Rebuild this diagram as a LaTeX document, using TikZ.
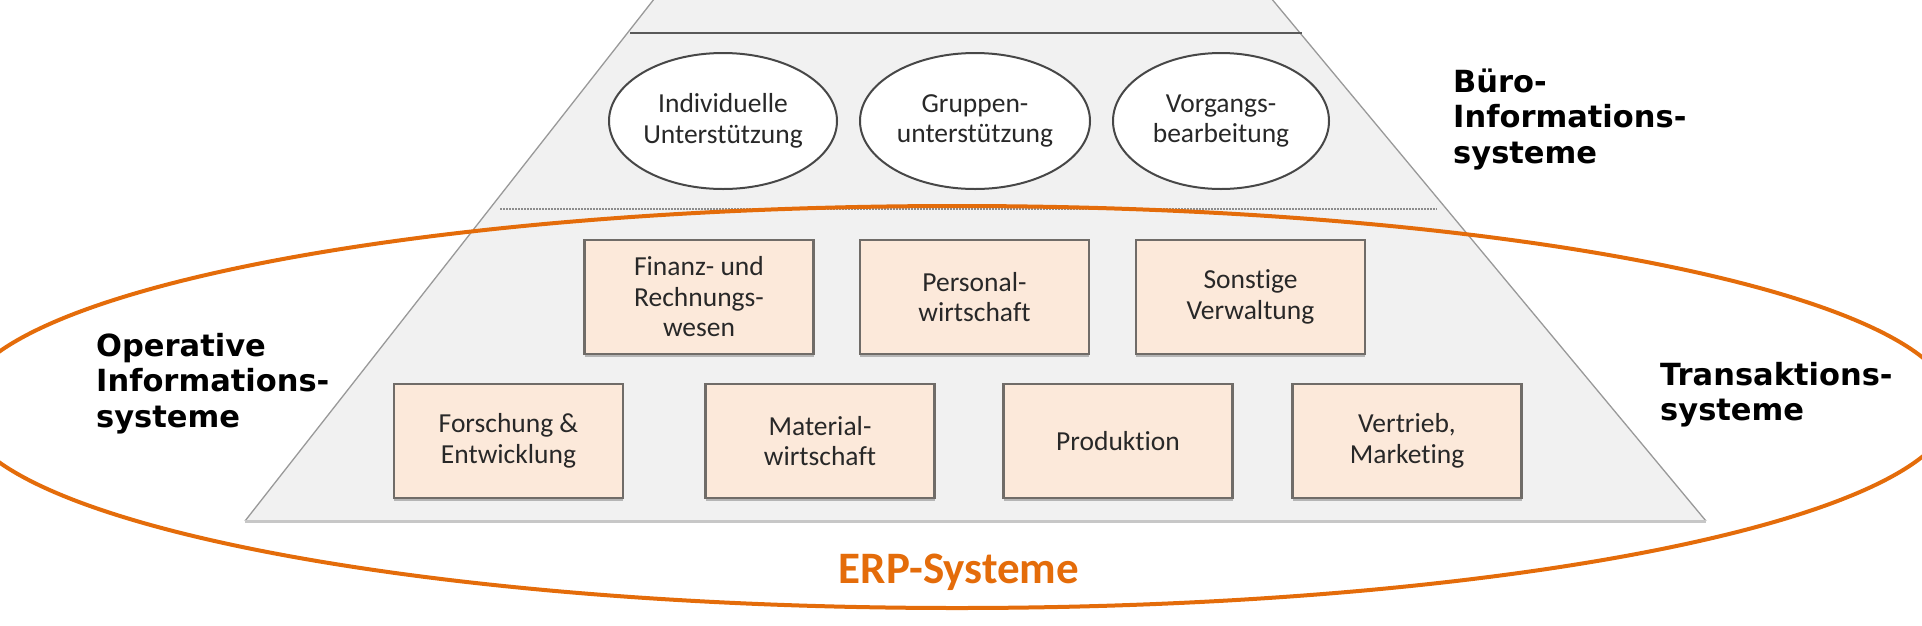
\documentclass[tikz,border=0pt]{standalone}
\usepackage{fontspec}
\setmainfont{Carlito}[Ligatures=NoCommon]
\newfontfamily\lblfont{DejaVu Sans}
\usetikzlibrary{shapes.geometric,shadows}
\definecolor{erporange}{RGB}{228,108,10}
\definecolor{trapfill}{RGB}{241,241,241}
\definecolor{boxfill}{RGB}{252,233,218}
\definecolor{boxline}{RGB}{112,108,104}
\definecolor{txtgray}{RGB}{40,40,40}
\begin{document}
\begin{tikzpicture}[x=1pt,y=-1pt,
  boxnode/.style={draw=boxline, line width=2.2pt, fill=boxfill, minimum width=229pt,
    minimum height=114pt, inner sep=0pt, align=center, text=txtgray,
    font=\fontsize{27.5}{30.5}\selectfont,
    drop shadow={shadow xshift=0pt, shadow yshift=-3pt, fill=black!35, opacity=0.8}},
  ovalnode/.style={ellipse, draw=black!72, line width=2pt, fill=white,
    minimum height=136pt, inner sep=0pt, align=center, text=txtgray,
    font=\fontsize{27.5}{30.5}\selectfont},
  lbl/.style={font={\lblfont\bfseries\fontsize{30.5}{35.5}\selectfont}, align=left,
    inner sep=0pt, anchor=base west, text=black},
  trapedge/.style={draw=black!40, line width=1.3pt},
]
\useasboundingbox (0,0) rectangle (1922,625);
\clip (0,0) rectangle (1922,625);

% pyramid
\coordinate (tl) at (669,-20);
\coordinate (tr) at (1256,-20);
\coordinate (bl) at (245,521);
\coordinate (br) at (1706,521);
\fill[trapfill] (tl) -- (bl) -- (br) -- (tr) -- cycle;
\draw[trapedge] (tl) -- (bl);
\draw[trapedge] (tr) -- (br);
\draw[draw=black!22, line width=3pt] (bl) -- (br);

% layer separators
\coordinate (s1l) at (630,33);
\coordinate (s1r) at (1302,33);
\draw[black!65, line width=2.5pt] (s1l) -- (s1r);
\coordinate (s2l) at (500,209);
\coordinate (s2r) at (1437,209);
\draw[black!45, line width=2pt, dash pattern=on 2pt off 1pt] (s2l) -- (s2r);

% office ovals
\node[ovalnode, minimum width=228pt] (ind) at (723,121) {Individuelle\\Unterstützung};
\node[ovalnode, minimum width=230pt] (grp) at (975,121) {Gruppen-\\unterstützung};
\node[ovalnode, minimum width=216pt] (vor) at (1221,121) {Vorgangs-\\bearbeitung};

% operative boxes
\node[boxnode] (fin) at (699,297) {Finanz- und\\Rechnungs-\\wesen};
\node[boxnode] (per) at (974.5,297) {Personal-\\wirtschaft};
\node[boxnode] (son) at (1250.5,297) {Sonstige\\Verwaltung};
\node[boxnode] (for) at (508.5,441) {Forschung \&\\Entwicklung};
\node[boxnode] (mat) at (820,441) {Material-\\wirtschaft};
\node[boxnode] (pro) at (1118,441) {Produktion};
\node[boxnode] (ver) at (1407,441) {Vertrieb,\\Marketing};

% ERP ellipse
\node[draw=erporange, line width=4pt, ellipse, minimum width=1992pt, minimum height=402pt,
  inner sep=0pt] (erp) at (957,407) {};

% labels (anchor at baseline of last line)
\node[lbl] (buero) at (1453,163) {Büro-\\Informations-\\systeme};
\node[lbl] (oper) at (96,427) {Operative\\Informations-\\systeme};
\node[lbl] (trans) at (1660,420.5) {Transaktions-\\systeme};
\node[font={\bfseries\fontsize{45}{52}\selectfont}, text=erporange, anchor=base,
  inner sep=0pt] (erptxt) at (959,583) {ERP-Systeme};
\end{tikzpicture}
\end{document}
